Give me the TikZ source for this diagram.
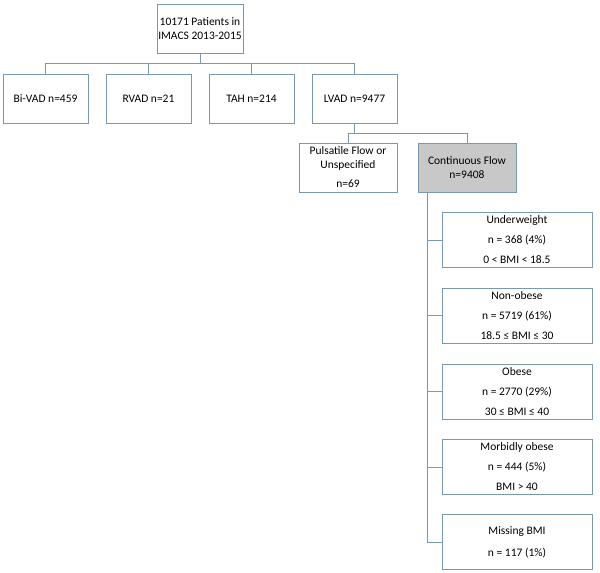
\documentclass[tikz,border=0pt]{standalone}
\usepackage{fontspec}
\setmainfont{Carlito}
\usepackage{tikz}
\usetikzlibrary{calc}

\definecolor{edgeblue}{RGB}{120,152,180}
\definecolor{flowgrey}{RGB}{200,200,200}

\begin{document}
\begin{tikzpicture}[x=1pt, y=-1pt,
        every node/.style={font=\fontsize{11.5}{14}\selectfont, inner sep=0pt},
        box/.style={draw=edgeblue, line width=0.8pt, fill=white, align=center,
                    minimum width=85pt, minimum height=49pt},
        widebox/.style={box, minimum width=98pt},
        bmibox/.style={box, minimum width=150pt, minimum height=55pt},
        link/.style={draw=edgeblue, line width=0.8pt}]
            \useasboundingbox (0, 0) rectangle (600, 573);

            % top of the tree
            \node [box, minimum width=86pt] (total) at (200, 28.5)
                {10171 Patients in\\IMACS 2013-2015};
            \node [box] (bivad) at (45.5, 98.5) {Bi-VAD n=459};
            \node [box] (rvad) at (148.5, 98.5) {RVAD n=21};
            \node [box] (tah) at (251.5, 98.5) {TAH n=214};
            \node [box] (lvad) at (354.5, 98.5) {LVAD n=9477};

            \coordinate (busA) at (200, 63);
            \draw [link] (total.south) -- (busA) -| (bivad.north);
            \draw [link] (busA) -| (rvad.north);
            \draw [link] (busA) -| (tah.north);
            \draw [link] (busA) -| (lvad.north);

            % flow type
            \node [widebox] (pulsatile) at (348, 167.5)
                {Pulsatile Flow or\\Unspecified\\[5pt]n=69};
            \node [widebox, fill=flowgrey] (continuous) at (467, 167.5)
                {Continuous Flow\\n=9408};

            \coordinate (busB) at (354.5, 133);
            \draw [link] (lvad.south) -- (busB) -| (pulsatile.north);
            \draw [link] (busB) -| (continuous.north);

            % BMI groups
            \node [bmibox] (under) at (517, 240)
                {Underweight\\[6pt]n = 368 (4\%)\\[6pt]0 < BMI < 18.5};
            \node [bmibox] (nonobese) at (517, 315.5)
                {Non-obese\\[6pt]n = 5719 (61\%)\\[6pt]18.5 ≤ BMI ≤ 30};
            \node [bmibox] (obese) at (517, 391.5)
                {Obese\\[6pt]n = 2770 (29\%)\\[6pt]30 ≤ BMI ≤ 40};
            \node [bmibox] (morbid) at (517, 467)
                {Morbidly obese\\[6pt]n = 444 (5\%)\\[6pt]BMI > 40};
            \node [bmibox] (missing) at (517, 542)
                {Missing BMI\\[8pt]n = 117 (1\%)};

            \coordinate (spine) at ($(continuous.south west)+(10,0)$);
            \draw [link] (spine) |- (under.west);
            \draw [link] (spine) |- (nonobese.west);
            \draw [link] (spine) |- (obese.west);
            \draw [link] (spine) |- (morbid.west);
            \draw [link] (spine) |- (missing.west);

        \end{tikzpicture}
\end{document}
